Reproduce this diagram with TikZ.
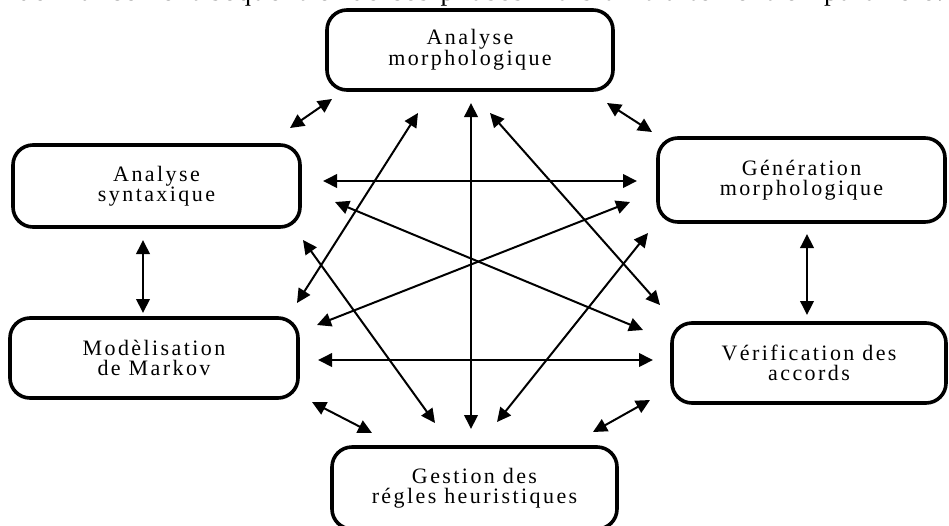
\documentclass[tikz,border=0pt]{standalone}
\usepackage{fontspec}
\setmainfont{Liberation Serif}[LetterSpace=8]
\newfontfamily\phasefont{Liberation Serif}[LetterSpace=11]
\usetikzlibrary{arrows.meta}

\begin{document}
\begin{tikzpicture}[x=1pt,y=-1pt,
  phase/.style={draw, line width=3.6pt, rounded corners=20pt, inner sep=0pt,
    align=center, font=\phasefont\fontsize{22}{20}\selectfont},
  tip/.tip={Triangle[length=14pt,width=13.5pt]},
  link/.style={line width=2pt, tip-tip}
]
\useasboundingbox (0,0) rectangle (949,525);
\clip (0,0) rectangle (949,525);

% running text line above the figure
\node[anchor=base west, inner sep=0pt, font=\fontsize{27}{30}\selectfont] (txt) at (-9,0)
  {\makebox[952pt][s]{ordonnancement séquentiel de ces phases mais un traitement en parallèle.}};

% the six processing phases
\node[phase, minimum width=286pt, minimum height=80pt] (am) at (470,50)
  {Analyse\\morphologique};
\node[phase, minimum width=287pt, minimum height=82pt] (as) at (156.5,186)
  {Analyse\\syntaxique};
\node[phase, minimum width=287pt, minimum height=84pt] (gm) at (801.5,180)
  {Génération\\morphologique};
\node[phase, minimum width=288pt, minimum height=80pt] (mm) at (154,358)
  {Modèlisation\\de Markov};
\node[phase, minimum width=274pt, minimum height=80pt] (va) at (809,363)
  {Vérification des\\accords};
\node[phase, minimum width=285pt, minimum height=82pt] (gr) at (474.5,488)
  {Gestion des\\régles heuristiques};

% arrow end points
\coordinate (as-am) at (290,128);  \coordinate (am-as) at (332,99);
\coordinate (mm-am) at (297,303);  \coordinate (am-mm) at (418,113);
\coordinate (am-gr) at (471,103);  \coordinate (gr-am) at (471,429);
\coordinate (am-va) at (490,113);  \coordinate (va-am) at (660,305);
\coordinate (am-gm) at (607,103);  \coordinate (gm-am) at (652,132);
\coordinate (as-gm) at (323,181);  \coordinate (gm-as) at (637,181);
\coordinate (as-va) at (335,202);  \coordinate (va-as) at (643,330);
\coordinate (gm-mm) at (630,202);  \coordinate (mm-gm) at (317,325);
\coordinate (as-gr) at (303,240);  \coordinate (gr-as) at (435,423);
\coordinate (gm-gr) at (648,233);  \coordinate (gr-gm) at (497,422);
\coordinate (mm-va) at (318,360);  \coordinate (va-mm) at (653,360);
\coordinate (mm-gr) at (312,402);  \coordinate (gr-mm) at (372,433);
\coordinate (va-gr) at (650,400);  \coordinate (gr-va) at (593,432);
\coordinate (as-mm) at (143,240);  \coordinate (mm-as) at (143,313);
\coordinate (gm-va) at (807,234);  \coordinate (va-gm) at (807,315);

% every phase exchanges with every other one
\draw[link] (as-am) -- (am-as);
\draw[link] (mm-am) -- (am-mm);
\draw[link] (am-gr) -- (gr-am);
\draw[link] (am-va) -- (va-am);
\draw[link] (am-gm) -- (gm-am);
\draw[link] (as-gm) -- (gm-as);
\draw[link] (as-va) -- (va-as);
\draw[link] (gm-mm) -- (mm-gm);
\draw[link] (as-gr) -- (gr-as);
\draw[link] (gm-gr) -- (gr-gm);
\draw[link] (mm-va) -- (va-mm);
\draw[link] (mm-gr) -- (gr-mm);
\draw[link] (va-gr) -- (gr-va);
\draw[link] (as-mm) -- (mm-as);
\draw[link] (gm-va) -- (va-gm);
\end{tikzpicture}
\end{document}
